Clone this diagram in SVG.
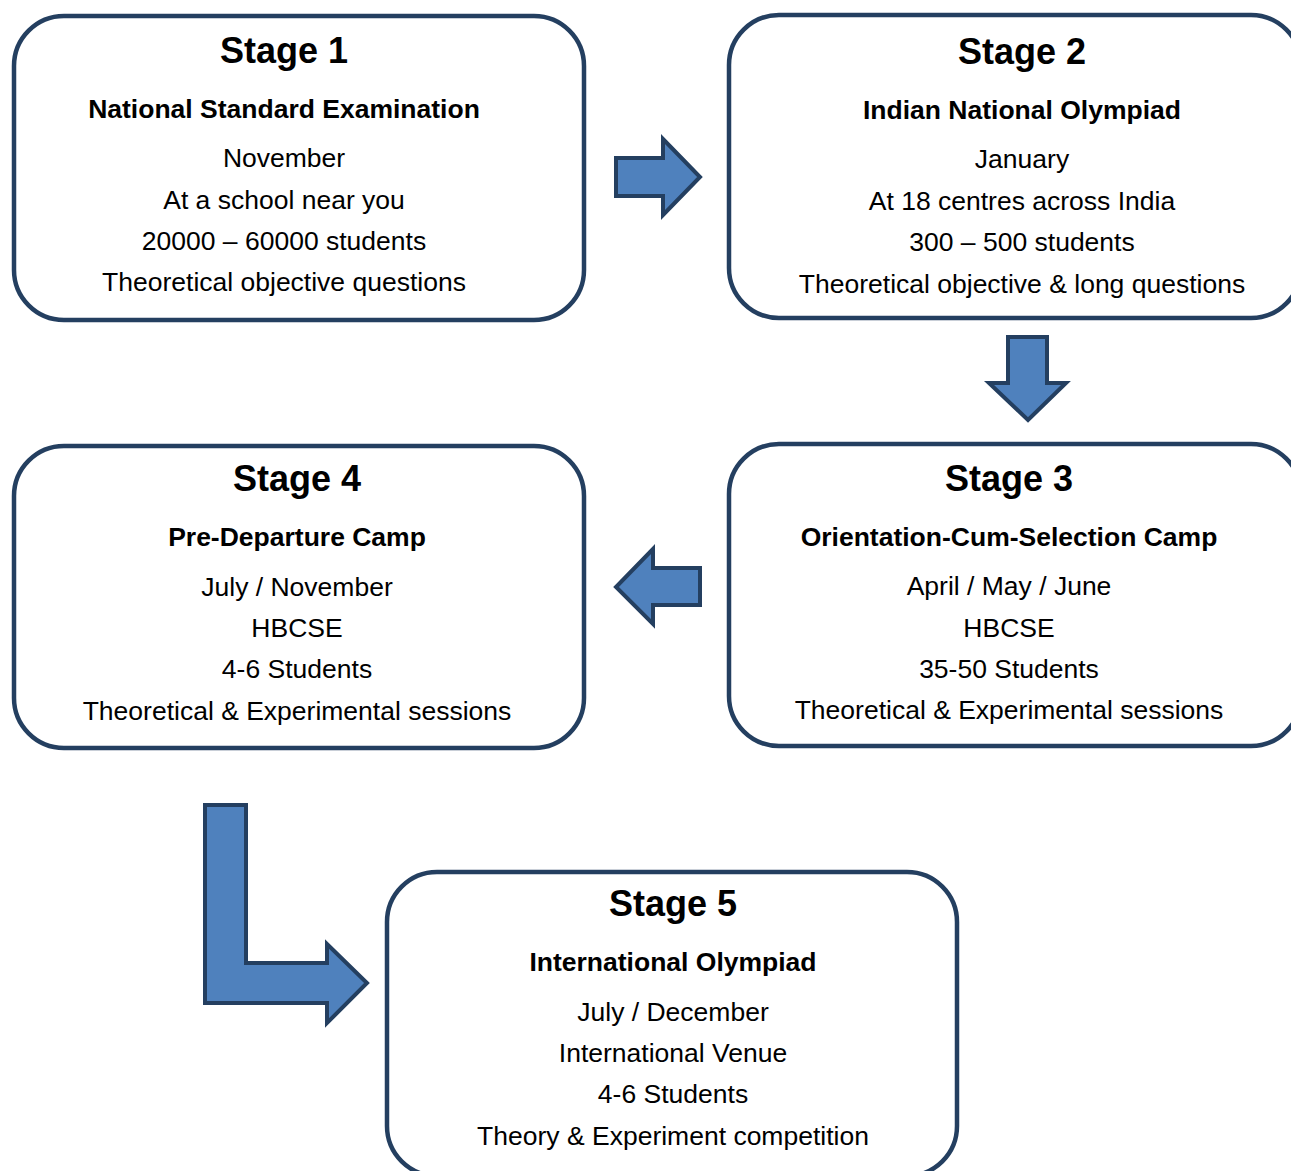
<svg xmlns="http://www.w3.org/2000/svg" width="1291" height="1171" viewBox="0 0 1291 1171">
<style>
.box{fill:#fff;stroke:#243f60;stroke-width:4.5}
.arr{fill:#4f81bd;stroke:#243f60;stroke-width:4;stroke-linejoin:miter}
text{font-family:"Liberation Sans",Arial,sans-serif;fill:#000;text-anchor:middle}
.t{font-size:36px;font-weight:bold}
.s{font-size:26.5px;font-weight:bold}
.r{font-size:26.5px}
</style>
<rect width="1291" height="1171" fill="#fff"/>
<g id="connectors">
<polygon class="arr" points="616,158 663,158 663,139 700,177 663,215 663,196 616,196"/>
<polygon class="arr" points="1008,337 1047,337 1047,383 1066,383 1028,420 989,383 1008,383"/>
<polygon class="arr" points="700,568 653,568 653,549 616,587 653,624 653,605 700,605"/>
<polygon class="arr" points="205,805 246,805 246,963 327,963 327,944 367,983 327,1023 327,1003 205,1003"/>
</g>
<g id="stage1">
<rect class="box" x="14" y="16" width="570" height="304" rx="50"/>
<text class="t" x="284" y="63">Stage 1</text>
<text class="s" x="284" y="118">National Standard Examination</text>
<text class="r" x="284" y="167">November</text>
<text class="r" x="284" y="209">At a school near you</text>
<text class="r" x="284" y="250">20000 – 60000 students</text>
<text class="r" x="284" y="291">Theoretical objective questions</text>
</g>
<g id="stage2">
<rect class="box" x="729" y="15" width="572" height="303" rx="50"/>
<text class="t" x="1022" y="64">Stage 2</text>
<text class="s" x="1022" y="119">Indian National Olympiad</text>
<text class="r" x="1022" y="168">January</text>
<text class="r" x="1022" y="210">At 18 centres across India</text>
<text class="r" x="1022" y="251">300 – 500 students</text>
<text class="r" x="1022" y="293">Theoretical objective &amp; long questions</text>
</g>
<g id="stage3">
<rect class="box" x="729" y="444" width="572" height="302" rx="50"/>
<text class="t" x="1009" y="491">Stage 3</text>
<text class="s" x="1009" y="546">Orientation-Cum-Selection Camp</text>
<text class="r" x="1009" y="595">April / May / June</text>
<text class="r" x="1009" y="637">HBCSE</text>
<text class="r" x="1009" y="678">35-50 Students</text>
<text class="r" x="1009" y="719">Theoretical &amp; Experimental sessions</text>
</g>
<g id="stage4">
<rect class="box" x="14" y="446" width="570" height="302" rx="50"/>
<text class="t" x="297" y="491">Stage 4</text>
<text class="s" x="297" y="546">Pre-Departure Camp</text>
<text class="r" x="297" y="596">July / November</text>
<text class="r" x="297" y="637">HBCSE</text>
<text class="r" x="297" y="678">4-6 Students</text>
<text class="r" x="297" y="720">Theoretical &amp; Experimental sessions</text>
</g>
<g id="stage5">
<rect class="box" x="387" y="872" width="570" height="304" rx="50"/>
<text class="t" x="673" y="916">Stage 5</text>
<text class="s" x="673" y="971">International Olympiad</text>
<text class="r" x="673" y="1021">July / December</text>
<text class="r" x="673" y="1062">International Venue</text>
<text class="r" x="673" y="1103">4-6 Students</text>
<text class="r" x="673" y="1145">Theory &amp; Experiment competition</text>
</g>
</svg>
